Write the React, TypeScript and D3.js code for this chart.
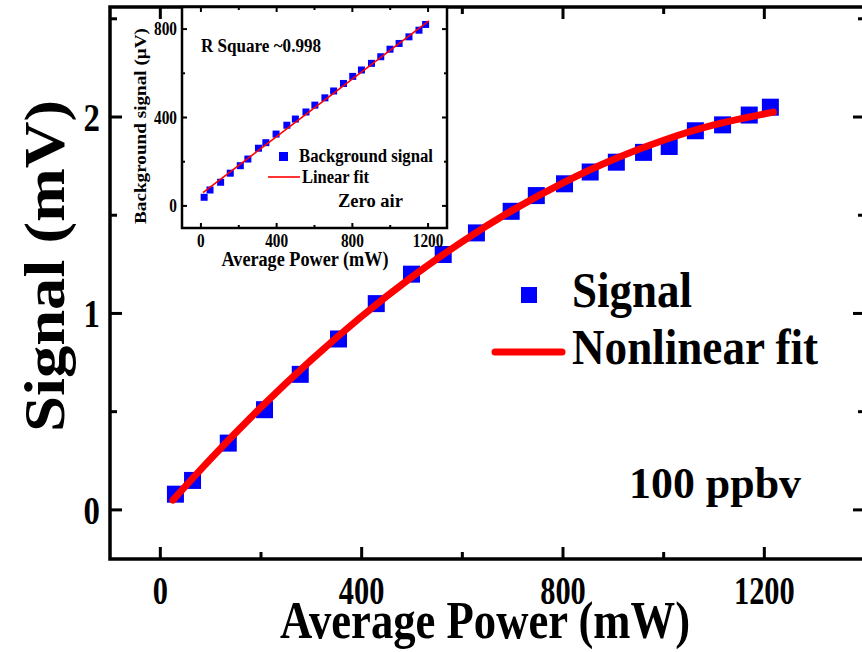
import React from "react";
import * as d3 from "d3";

// ---- Main chart data ----
const signalPower = [30, 64, 135, 207, 278, 354, 429, 499, 562, 628, 697, 747, 803, 854, 906, 960, 1011, 1063, 1117, 1170, 1212];
const signalValue = [0.08, 0.15, 0.34, 0.51, 0.69, 0.87, 1.05, 1.2, 1.3, 1.41, 1.52, 1.6, 1.66, 1.72, 1.77, 1.82, 1.85, 1.93, 1.96, 2.01, 2.05];
const fitPower = [25, 100, 200, 300, 400, 500, 600, 700, 800, 900, 1000, 1100, 1218];
const fitValue = [0.05, 0.26, 0.522, 0.764, 0.985, 1.186, 1.366, 1.526, 1.665, 1.784, 1.882, 1.96, 2.025];
const mainXTicks = [0, 400, 800, 1200];
const mainXMinor = [200, 600, 1000];
const mainYTicks = [0, 1, 2];
const mainYMinor = [0.5, 1.5, 2.5];

// ---- Inset data ----
const bgPower = [17, 48, 104, 155, 208, 248, 304, 343, 397, 454, 499, 555, 602, 655, 701, 753, 802, 848, 901, 950, 999, 1047, 1099, 1152, 1187];
const bgValue = [39, 72, 107, 148, 182, 212, 261, 286, 325, 365, 393, 425, 456, 489, 520, 554, 586, 615, 645, 675, 709, 735, 765, 795, 821];
const linFitPower = [11, 1204];
const linFitValue = [60, 837];
const insetXTicks = [0, 400, 800, 1200];
const insetXMinor = [200, 600, 1000];
const insetYTicks = [0, 400, 800];
const insetYMinor = [200, 600];

const FONT = "'Liberation Serif', 'Times New Roman', serif";
const BLUE = "#0000ff";
const RED = "#ff0000";

function T({ x, y, size, anchor = "start", sx = 0.82, rot = 0, len, children }: any) {
  if (len) {
    return (
      <text
        transform={`translate(${x},${y}) rotate(${rot})`}
        fontFamily={FONT}
        fontWeight="bold"
        fontSize={size}
        textAnchor={anchor}
        textLength={len}
        lengthAdjust="spacingAndGlyphs"
        fill="#000"
      >
        {children}
      </text>
    );
  }
  return (
    <text
      transform={`translate(${x},${y}) rotate(${rot}) scale(${sx},1)`}
      fontFamily={FONT}
      fontWeight="bold"
      fontSize={size}
      textAnchor={anchor}
      fill="#000"
    >
      {children}
    </text>
  );
}

export default function App() {
  const W = 862, H = 652;
  // main scales
  const x = d3.scaleLinear().domain([-100, 1400]).range([110, 865]);
  const y = d3.scaleLinear().domain([-0.25, 2.56]).range([559, 7]);
  const [x0, x1] = x.range();
  const [y0, y1] = y.range();

  // inset scales
  const ix = d3.scaleLinear().domain([-100, 1300]).range([182, 447]);
  const iy = d3.scaleLinear().domain([-100, 900]).range([228, 7]);
  const [ix0, ix1] = ix.range();
  const [iy0, iy1] = iy.range();

  const fitLine = d3
    .line<number>()
    .x((_, i) => x(fitPower[i]))
    .y((d) => y(d))
    .curve(d3.curveNatural)(fitValue) as string;

  const linLine = d3
    .line<number>()
    .x((_, i) => ix(linFitPower[i]))
    .y((d) => iy(d))(linFitValue) as string;

  const MS = 17; // main marker size
  const IMS = 7; // inset marker size

  return (
    <svg
      width={W}
      height={H}
      style={{ position: "absolute", left: 0, top: 0, background: "#fff" }}
    >
      <rect x={0} y={0} width={W} height={H} fill="#fff" />

      {/* main data */}
      {signalValue.map((v, i) => (
        <rect
          key={"s" + i}
          x={x(signalPower[i]) - MS / 2}
          y={y(v) - MS / 2}
          width={MS}
          height={MS}
          fill={BLUE}
        />
      ))}
      <path d={fitLine} fill="none" stroke={RED} strokeWidth={7} strokeLinecap="round" />

      {/* main frame and ticks */}
      <g stroke="#000" strokeWidth={3}>
        {mainXTicks.map((t) => (
          <g key={"mx" + t}>
            <line x1={x(t)} x2={x(t)} y1={y0} y2={y0 - 12} />
            <line x1={x(t)} x2={x(t)} y1={y1} y2={y1 + 12} />
          </g>
        ))}
        {mainXMinor.map((t) => (
          <g key={"mxm" + t}>
            <line x1={x(t)} x2={x(t)} y1={y0} y2={y0 - 7} />
            <line x1={x(t)} x2={x(t)} y1={y1} y2={y1 + 7} />
          </g>
        ))}
        {mainYTicks.map((t) => (
          <g key={"my" + t}>
            <line x1={x0} x2={x0 + 12} y1={y(t)} y2={y(t)} />
            <line x1={x1} x2={x1 - 12} y1={y(t)} y2={y(t)} />
          </g>
        ))}
        {mainYMinor.map((t) => (
          <g key={"mym" + t}>
            <line x1={x0} x2={x0 + 7} y1={y(t)} y2={y(t)} />
            <line x1={x1} x2={x1 - 7} y1={y(t)} y2={y(t)} />
          </g>
        ))}
        <rect x={x0} y={y1} width={x1 - x0} height={y0 - y1} fill="none" strokeWidth={3.5} />
      </g>

      {/* main tick labels */}
      {mainXTicks.map((t) => (
        <T key={"mxl" + t} x={x(t)} y={604} size={39} anchor="middle" sx={0.78}>
          {t}
        </T>
      ))}
      {mainYTicks.map((t) => (
        <T key={"myl" + t} x={100} y={y(t) + 14} size={40} anchor="end" sx={0.82}>
          {t}
        </T>
      ))}

      {/* main axis titles */}
      <T x={485} y={638} size={52} anchor="middle" len={410}>
        Average Power (mW)
      </T>
      <T x={64} y={266} size={56} anchor="middle" rot={-90} len={332}>
        Signal (mV)
      </T>

      {/* main legend */}
      <rect x={521} y={287} width={16} height={16} fill={BLUE} />
      <T x={572} y={307} size={50} len={120}>
        Signal
      </T>
      <line x1={495} x2={562} y1={352} y2={352} stroke={RED} strokeWidth={7} strokeLinecap="round" />
      <T x={572} y={364} size={50} len={246}>
        Nonlinear fit
      </T>
      <T x={629} y={498} size={44} len={172}>
        100 ppbv
      </T>

      {/* inset */}
      <rect x={ix0} y={iy1} width={ix1 - ix0} height={iy0 - iy1} fill="#fff" />
      {bgValue.map((v, i) => (
        <rect
          key={"b" + i}
          x={ix(bgPower[i]) - IMS / 2}
          y={iy(v) - IMS / 2}
          width={IMS}
          height={IMS}
          fill={BLUE}
        />
      ))}
      <path d={linLine} fill="none" stroke={RED} strokeWidth={1.6} />
      <g stroke="#000" strokeWidth={2}>
        {insetXTicks.map((t) => (
          <g key={"ix" + t}>
            <line x1={ix(t)} x2={ix(t)} y1={iy0} y2={iy0 - 5} />
            <line x1={ix(t)} x2={ix(t)} y1={iy1} y2={iy1 + 5} />
          </g>
        ))}
        {insetXMinor.map((t) => (
          <g key={"ixm" + t}>
            <line x1={ix(t)} x2={ix(t)} y1={iy0} y2={iy0 - 3} />
            <line x1={ix(t)} x2={ix(t)} y1={iy1} y2={iy1 + 3} />
          </g>
        ))}
        {insetYTicks.map((t) => (
          <g key={"iy" + t}>
            <line x1={ix0} x2={ix0 + 5} y1={iy(t)} y2={iy(t)} />
            <line x1={ix1} x2={ix1 - 5} y1={iy(t)} y2={iy(t)} />
          </g>
        ))}
        {insetYMinor.map((t) => (
          <g key={"iym" + t}>
            <line x1={ix0} x2={ix0 + 3} y1={iy(t)} y2={iy(t)} />
            <line x1={ix1} x2={ix1 - 3} y1={iy(t)} y2={iy(t)} />
          </g>
        ))}
        <rect x={ix0} y={iy1} width={ix1 - ix0} height={iy0 - iy1} fill="none" strokeWidth={2.5} />
      </g>
      {insetXTicks.map((t) => (
        <T key={"ixl" + t} x={ix(t)} y={247} size={18} anchor="middle" sx={0.85}>
          {t}
        </T>
      ))}
      {insetYTicks.map((t) => (
        <T key={"iyl" + t} x={177} y={iy(t) + 6} size={18} anchor="end" sx={0.85}>
          {t}
        </T>
      ))}
      <T x={305} y={266} size={20} anchor="middle" len={167}>
        Average Power (mW)
      </T>
      <T x={146} y={126} size={17} anchor="middle" rot={-90} len={196}>
        Background signal (μV)
      </T>
      <T x={201} y={52} size={18} len={120}>
        R Square ~0.998
      </T>
      <rect x={279} y={152} width={9} height={9} fill={BLUE} />
      <T x={299} y={162} size={18} len={134}>
        Background signal
      </T>
      <line x1={268} x2={300} y1={177} y2={177} stroke={RED} strokeWidth={1.6} />
      <T x={302} y={183} size={18} len={67}>
        Linear fit
      </T>
      <T x={338} y={207} size={18} len={65}>
        Zero air
      </T>
    </svg>
  );
}
